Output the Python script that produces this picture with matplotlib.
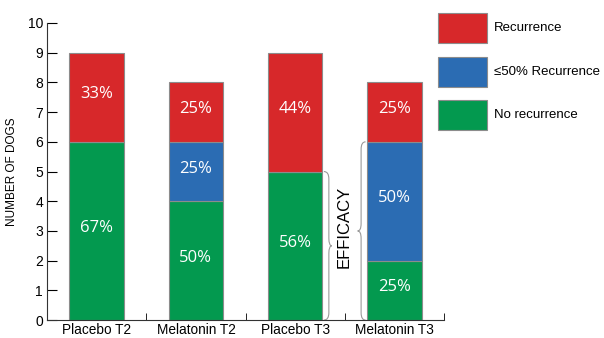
import matplotlib
matplotlib.use('Agg')
import matplotlib.pyplot as plt
from matplotlib.path import Path
from matplotlib.patches import PathPatch, Rectangle

# data
categories = ['Placebo T2', 'Melatonin T2', 'Placebo T3', 'Melatonin T3']
no_recurrence = [6, 4, 5, 2]
partial_recurrence = [0, 2, 0, 4]
recurrence = [3, 2, 4, 2]
no_rec_pct = ['67%', '50%', '56%', '25%']
partial_pct = ['', '25%', '', '50%']
rec_pct = ['33%', '25%', '44%', '25%']
legend_labels = ['Recurrence', '\u226450% Recurrence', 'No recurrence']

red = '#d7282a'
blue = '#2b6cb3'
green = '#03994f'
edge = '#8c8c8c'

plt.rcParams['font.family'] = ['Liberation Sans', 'DejaVu Sans']

fig = plt.figure(figsize=(6.04, 3.38), dpi=100)
ax = fig.add_axes([0.078, 0.053, 0.657, 0.879])

x = list(range(len(categories)))
w = 0.55
bottom2 = no_recurrence
bottom3 = [a + b for a, b in zip(no_recurrence, partial_recurrence)]
ax.bar(x, no_recurrence, w, color=green, edgecolor=edge, linewidth=0.8)
ax.bar(x, partial_recurrence, w, bottom=bottom2, color=blue, edgecolor=edge, linewidth=0.8)
ax.bar(x, recurrence, w, bottom=bottom3, color=red, edgecolor=edge, linewidth=0.8)

pct_kw = dict(color='white', fontsize=12, ha='center', va='center', family='Open Sans')
for i in x:
    ax.text(i, no_recurrence[i] / 2 + 0.1, no_rec_pct[i], **pct_kw)
    if partial_pct[i]:
        ax.text(i, bottom2[i] + partial_recurrence[i] / 2 + 0.1, partial_pct[i], **pct_kw)
    ax.text(i, bottom3[i] + recurrence[i] / 2 + 0.1, rec_pct[i], **pct_kw)


def brace(ax, xb, xm, xt, y0, y1, ym):
    # curly brace: base at xb, straight part at xm, tip at xt
    d = 0.25
    verts = [(xb, y0), (xm, y0), (xm, y0 + d), (xm, y0 + d),
             (xm, ym - d), (xm, ym), (xt, ym),
             (xm, ym), (xm, ym + d),
             (xm, y1 - d), (xm, y1 - d), (xm, y1), (xb, y1)]
    codes = [Path.MOVETO, Path.CURVE3, Path.CURVE3, Path.LINETO,
             Path.LINETO, Path.CURVE3, Path.CURVE3,
             Path.CURVE3, Path.CURVE3,
             Path.LINETO, Path.LINETO, Path.CURVE3, Path.CURVE3]
    ax.add_patch(PathPatch(Path(verts, codes), fill=False, edgecolor='#9a9a9a',
                           linewidth=0.8, clip_on=False))


brace(ax, 2.29, 2.34, 2.37, 0, 5, 2.5)
brace(ax, 2.71, 2.665, 2.63, 0, 6, 3.0)
ax.text(2.495, 3.13, 'EFFICACY', rotation=90, ha='center', va='center', fontsize=12)

ax.set_xlim(-0.5, 3.5)
ax.set_ylim(0, 10)
ax.set_yticks(range(0, 11))
ax.set_xticks(x)
ax.set_xticklabels(categories, fontsize=9.8)
ax.set_xticks([0.5, 1.5, 2.5, 3.5], minor=True)
ax.tick_params(axis='x', which='major', length=0, pad=2)
ax.tick_params(axis='x', which='minor', direction='in', length=5)
ax.tick_params(axis='y', direction='in', length=7, labelsize=10, pad=3)
ax.set_ylabel('NUMBER OF DOGS', fontsize=8.5, labelpad=7)
for s in ['top', 'right']:
    ax.spines[s].set_visible(False)
for s in ['left', 'bottom']:
    ax.spines[s].set_color('#333333')
    ax.spines[s].set_linewidth(0.8)

# legend boxes
legend_colors = [red, blue, green]
box_tops = [13, 57, 100]
for lbl, c, top in zip(legend_labels, legend_colors, box_tops):
    fig.patches.append(Rectangle((438 / 604, 1 - (top + 30) / 338), 49 / 604, 30 / 338,
                                 transform=fig.transFigure, facecolor=c,
                                 edgecolor=edge, linewidth=0.8))
    fig.text(494 / 604, 1 - (top + 15) / 338, lbl, fontsize=9.5, va='center', ha='left')

fig.savefig('out.png', dpi=100)
